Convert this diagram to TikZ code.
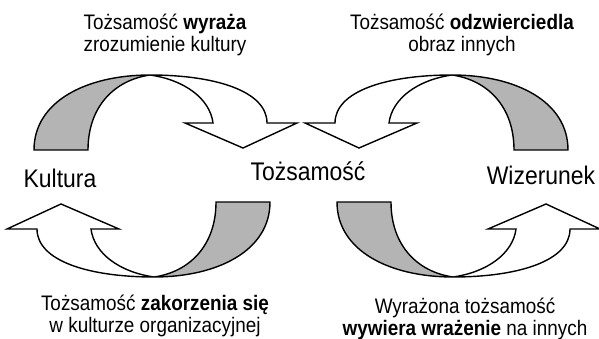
\documentclass[tikz,border=0pt]{standalone}
\usepackage{fontspec}
\setmainfont[FakeStretch=0.9]{Liberation Sans}
\usetikzlibrary{positioning}
\definecolor{shade}{RGB}{180,180,180}

\begin{document}
\begin{tikzpicture}[x=1pt, y=-1pt, line width=1.4pt,
        lbl/.style={align=center, font=\fontsize{21}{22}\selectfont, inner sep=0pt, anchor=base},
        key/.style={font=\fontsize{25.5}{28}\selectfont, inner sep=0pt, anchor=base},
        twist/.pic={
            \filldraw[fill=shade] (-118,-26) .. controls (-118,-75) and (-65,-101) .. (-2,-101)
                .. controls (-37,-96) and (-64,-70) .. (-64,-26) -- cycle;
            \filldraw[fill=white] (-2,-101) .. controls (63,-101) and (115,-85) .. (115,-53)
                -- (145,-53) -- (91,-28) -- (33,-53) -- (61,-53)
                .. controls (58,-77) and (33,-96) .. (-2,-101) -- cycle;
        }]
        \useasboundingbox (0,0) rectangle (599,339);
        \pic at (152,176) {twist};
        \pic[xscale=-1] at (450,176) {twist};
        \pic[rotate=180] at (152,176) {twist};
        \pic[yscale=-1] at (455,176) {twist};

        \node[key] (kultura)   at (60,187)  {Kultura};
        \node[key] (tozsamosc) at (308,181) {Tożsamość};
        \node[key] (wizerunek) at (541,185) {Wizerunek};

        \node[lbl] (wyraza)    at (165,52)  {Tożsamość \textbf{wyraża}\\zrozumienie kultury};
        \node[lbl] (odzwierc)  at (462,52)  {Tożsamość \textbf{odzwierciedla}\\obraz innych};
        \node[lbl] (zakorz)    at (155,332) {Tożsamość \textbf{zakorzenia się}\\w kulturze organizacyjnej};
        \node[lbl] (wrazenie)  at (465,335) {Wyrażona tożsamość\\\textbf{wywiera wrażenie} na innych};
    \end{tikzpicture}
\end{document}
